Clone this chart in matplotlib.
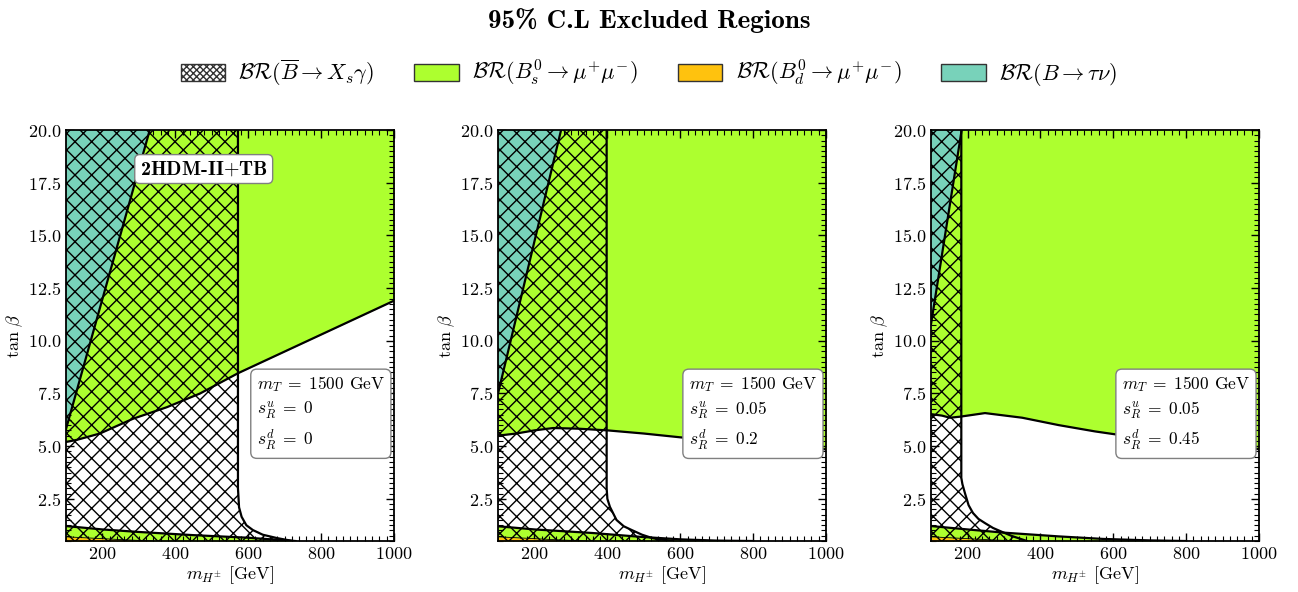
import matplotlib
matplotlib.use("Agg")
import matplotlib.pyplot as plt
from matplotlib.patches import Patch
from matplotlib.ticker import AutoMinorLocator, MultipleLocator

plt.rcParams['font.family'] = 'serif'
plt.rcParams['font.serif'] = ['cmr10']
plt.rcParams['mathtext.fontset'] = 'cm'
plt.rcParams['axes.formatter.use_mathtext'] = True
plt.rcParams['hatch.linewidth'] = 1.0

# ---------------- data ----------------
x_limits = [100, 1000]
y_limits = [0.5, 20]

# Panel 1 : s_R^u = 0, s_R^d = 0
p1_teal_x = [100, 330]
p1_teal_y = [5.8, 20.0]
p1_green_x = [100, 130, 193, 284, 377, 468, 572, 1000]
p1_green_y = [5.2, 5.3, 5.6, 6.3, 6.85, 7.5, 8.46, 11.9]
p1_low_x = [100, 200, 300, 449, 596, 680, 730]
p1_low_y = [1.21, 1.05, 0.93, 0.78, 0.66, 0.56, 0.5]
p1_orange_x = [100, 180, 260, 340]
p1_orange_y = [0.7, 0.63, 0.56, 0.5]
p1_bsg_x = [572, 572, 575, 582, 595, 613, 640, 679, 723]
p1_bsg_y = [20.0, 3.0, 2.1, 1.65, 1.25, 1.02, 0.8, 0.64, 0.5]

# Panel 2 : s_R^u = 0.05, s_R^d = 0.2
p2_teal_x = [100, 273]
p2_teal_y = [7.5, 20.0]
p2_green_x = [100, 150, 200, 251, 320, 400, 500, 600, 700, 800, 900, 1000]
p2_green_y = [5.5, 5.6, 5.75, 5.86, 5.83, 5.75, 5.6, 5.42, 5.25, 5.1, 4.98, 4.85]
p2_low_x = [100, 200, 360, 490, 600, 700, 800]
p2_low_y = [1.2, 1.05, 0.88, 0.7, 0.58, 0.52, 0.5]
p2_orange_x = [100, 180, 260, 340]
p2_orange_y = [0.7, 0.63, 0.56, 0.5]
p2_bsg_x = [398, 398, 400, 407, 425, 445, 467, 495, 525, 580]
p2_bsg_y = [20.0, 3.0, 2.5, 2.12, 1.5, 1.2, 1.02, 0.8, 0.63, 0.5]

# Panel 3 : s_R^u = 0.05, s_R^d = 0.45
p3_teal_x = [100, 184]
p3_teal_y = [10.8, 20.0]
p3_green_x = [100, 130, 152, 180, 248, 350, 450, 550, 650, 750, 850, 1000]
p3_green_y = [6.52, 6.45, 6.35, 6.4, 6.57, 6.35, 6.0, 5.7, 5.45, 5.25, 5.05, 4.86]
p3_low_x = [100, 200, 298, 450, 572, 700, 800]
p3_low_y = [1.21, 1.05, 0.9, 0.72, 0.6, 0.53, 0.5]
p3_orange_x = [100, 180, 260, 340]
p3_orange_y = [0.7, 0.63, 0.56, 0.5]
p3_bsg_x = [183, 183, 186, 193, 203, 215, 230, 248, 270, 294, 320, 363]
p3_bsg_y = [20.0, 3.5, 3.2, 2.77, 2.2, 1.83, 1.55, 1.35, 1.12, 0.94, 0.75, 0.5]

panel_params = [("0", "0"), ("0.05", "0.2"), ("0.05", "0.45")]

legend_labels = [r"$\mathcal{BR}(\overline{B}\to X_s\gamma)$",
                 r"$\mathcal{BR}(B_s^0\to \mu^{+}\mu^{-})$",
                 r"$\mathcal{BR}(B_d^0\to \mu^{+}\mu^{-})$",
                 r"$\mathcal{BR}(B\to \tau\nu)$"]

C_GREEN = '#adff2f'
C_TEAL = '#78d2ba'
C_ORANGE = '#ffc20e'

panels = [
    (p1_teal_x, p1_teal_y, p1_green_x, p1_green_y, p1_low_x, p1_low_y,
     p1_orange_x, p1_orange_y, p1_bsg_x, p1_bsg_y),
    (p2_teal_x, p2_teal_y, p2_green_x, p2_green_y, p2_low_x, p2_low_y,
     p2_orange_x, p2_orange_y, p2_bsg_x, p2_bsg_y),
    (p3_teal_x, p3_teal_y, p3_green_x, p3_green_y, p3_low_x, p3_low_y,
     p3_orange_x, p3_orange_y, p3_bsg_x, p3_bsg_y),
]

fig = plt.figure(figsize=(12.98, 5.92), dpi=100)
lefts = [0.0508, 0.3837, 0.7173]
W = 0.2527
B = 0.0861
H = 0.6943

for i, (tx, ty, gx, gy, lx, ly, ox, oy, bx, by) in enumerate(panels):
    ax = fig.add_axes([lefts[i], B, W, H])
    y0, y1 = y_limits
    # Bs -> mu mu (upper region)
    ax.fill_between(gx, gy, y1, color=C_GREEN, lw=0, zorder=1)
    ax.plot(gx, gy, color='k', lw=1.6, zorder=5)
    # Bs -> mu mu (lower strip)
    ax.fill_between(lx, y0, ly, color=C_GREEN, lw=0, zorder=1)
    ax.plot(lx, ly, color='k', lw=1.6, zorder=5)
    # Bd -> mu mu
    ax.fill_between(ox, y0, oy, color=C_ORANGE, lw=0, zorder=2)
    ax.plot(ox, oy, color='k', lw=0.6, zorder=5)
    # B -> tau nu
    ax.fill([tx[0], tx[1], tx[0]], [ty[0], ty[1], ty[1]], color=C_TEAL, lw=0, zorder=3)
    ax.plot(tx, ty, color='k', lw=1.6, zorder=5)
    # b -> s gamma (hatched)
    polx = [x_limits[0]] + list(bx) + [x_limits[0]]
    poly = [y1] + list(by) + [y0]
    ax.fill(polx[::-1], poly[::-1], facecolor='none', edgecolor='k',
            hatch='xx', lw=0, zorder=4)
    ax.plot(bx, by, color='k', lw=1.6, zorder=5)

    ax.set_xlim(*x_limits)
    ax.set_ylim(*y_limits)
    ax.xaxis.set_major_locator(MultipleLocator(200))
    ax.yaxis.set_major_locator(MultipleLocator(2.5))
    ax.xaxis.set_minor_locator(AutoMinorLocator(10))
    ax.yaxis.set_minor_locator(AutoMinorLocator(10))
    ax.tick_params(which='both', direction='in', top=True, right=True, labelsize=13)
    ax.tick_params(which='major', length=6, width=1.0)
    ax.tick_params(which='minor', length=3.5, width=0.8)
    for s in ax.spines.values():
        s.set_linewidth(1.3)
        s.set_zorder(10)
    ax.set_xlabel(r"$m_{H^{\pm}}$ [GeV]", fontsize=13, labelpad=2)
    ax.set_ylabel(r"$\tan\,\beta$", fontsize=13, labelpad=2)

    su, sd = panel_params[i]
    txt = (r"$m_T\;=\;1500$ GeV" + "\n" + r"$s_R^u\;=\;%s$" % su + "\n" + r"$s_R^d\;=\;%s$" % sd)
    ax.text(0.582, 0.407, txt, transform=ax.transAxes, fontsize=12.5, va='top', ha='left',
            linespacing=1.4, zorder=12,
            bbox=dict(boxstyle='round,pad=0.35', facecolor='white', edgecolor='0.5', lw=1.0))
    if i == 0:
        ax.text(0.42, 0.905, r"2HDM-II$+\mathbf{TB}$", transform=ax.transAxes, fontsize=14.5,
                fontfamily='cmb10', ha='center', va='center', zorder=12,
                bbox=dict(boxstyle='round,pad=0.25', facecolor='white', edgecolor='0.5', lw=1.0))

handles = [Patch(facecolor='white', edgecolor='#333333', hatch='xxxxx', lw=1.0),
           Patch(facecolor=C_GREEN, edgecolor='#333333', lw=1.0),
           Patch(facecolor=C_ORANGE, edgecolor='#333333', lw=1.0),
           Patch(facecolor=C_TEAL, edgecolor='#333333', lw=1.0)]
fig.legend(handles, legend_labels, loc='center', bbox_to_anchor=(0.5, 0.877), ncol=4,
           frameon=False, fontsize=16, handlelength=2.0, handleheight=0.8,
           handletextpad=0.6, columnspacing=1.8)

fig.text(0.5, 0.966, "95% C.L Excluded Regions", fontfamily='cmb10', fontsize=19.5,
         ha='center', va='center')

fig.savefig("out.png", dpi=100)
